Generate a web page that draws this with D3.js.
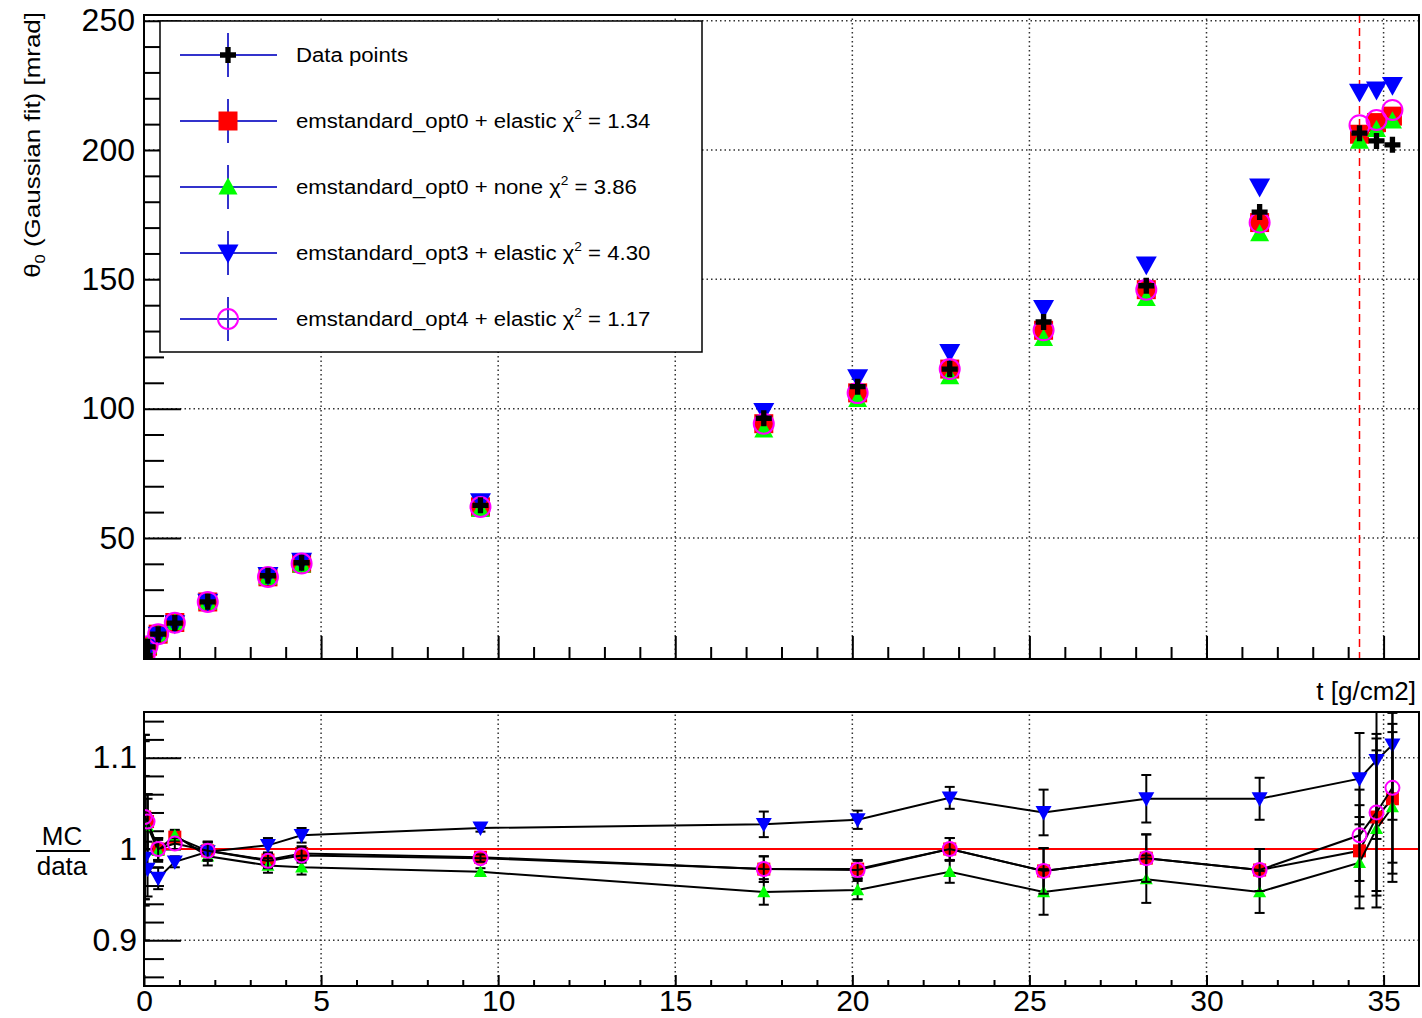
<!DOCTYPE html>
<html><head><meta charset="utf-8">
<script src="https://cdn.jsdelivr.net/npm/d3@7"></script>
<style>
body{margin:0;background:#fff}
svg{display:block}
text{font-family:"Liberation Sans",Arial,Helvetica,sans-serif;fill:#000}
</style>
</head><body>
<script>
// ---------------- data ----------------
const tValues = [0.02, 0.1, 0.4, 0.87, 1.8, 3.5, 4.45, 9.5, 17.5, 20.15, 22.75, 25.4, 28.3, 31.5, 34.32, 34.8, 35.25];
const thetaData        = [4.6, 7.9, 12.8, 17.1, 25.3, 35.4, 40.4, 62.6, 96.3, 108.5, 115.3, 133.5, 147.5, 176.0, 206.5, 203.5, 202.0];
const thetaOpt0Elastic = [4.76, 8.14, 12.8, 17.31, 25.25, 34.98, 40.2, 62.04, 94.18, 106.1, 115.3, 130.3, 146.0, 171.95, 206.1, 210.6, 213.1];
const thetaOpt0None    = [4.73, 8.10, 12.77, 17.36, 25.1, 34.76, 39.6, 61.0, 91.8, 103.6, 112.4, 127.2, 142.6, 167.7, 203.4, 208.0, 211.3];
const thetaOpt3Elastic = [4.55, 7.73, 12.39, 16.86, 25.22, 35.54, 41.0, 64.04, 98.9, 111.97, 121.76, 138.8, 155.6, 185.7, 222.4, 223.2, 225.0];
const thetaOpt4Elastic = [4.76, 8.14, 12.8, 17.2, 25.25, 34.94, 40.12, 61.97, 94.18, 106.0, 115.3, 130.3, 146.0, 171.95, 209.6, 211.6, 215.5];

const ratioOpt0Elastic = [1.035, 1.03, 1.0, 1.013, 0.998, 0.988, 0.995, 0.991, 0.978, 0.978, 1.0, 0.976, 0.99, 0.977, 0.998, 1.035, 1.055];
const ratioOpt0None    = [1.028, 1.025, 0.998, 1.015, 0.992, 0.982, 0.98, 0.975, 0.953, 0.955, 0.975, 0.953, 0.967, 0.953, 0.985, 1.022, 1.046];
const ratioOpt3Elastic = [0.99, 0.978, 0.968, 0.986, 0.997, 1.004, 1.015, 1.023, 1.027, 1.032, 1.056, 1.04, 1.055, 1.055, 1.077, 1.097, 1.114];
const ratioOpt4Elastic = [1.035, 1.03, 1.0, 1.006, 0.998, 0.987, 0.993, 0.99, 0.978, 0.977, 1.0, 0.976, 0.99, 0.977, 1.015, 1.04, 1.067];
const ratioErr         = [0.09, 0.03, 0.012, 0.006, 0.01, 0.008, 0.008, 0.004, 0.014, 0.01, 0.012, 0.025, 0.026, 0.023, 0.05, 0.086, 0.082];

const legendLabels = ["Data points", "emstandard_opt0 + elastic", "emstandard_opt0 + none", "emstandard_opt3 + elastic", "emstandard_opt4 + elastic"];
const chi2Values   = [null, "1.34", "3.86", "4.30", "1.17"];

const xDomain = [0, 36];
const yTopDomain = [3.2, 252.2];
const yBotDomain = [0.85, 1.15];
const xMajorTicks = [0, 5, 10, 15, 20, 25, 30, 35];
const xMinorTicks = d3.range(1, 36).filter(v => v % 5 !== 0);
const yTopMajorTicks = [50, 100, 150, 200, 250];
const yTopMinorTicks = [10, 20, 30, 40, 60, 70, 80, 90, 110, 120, 130, 140, 160, 170, 180, 190, 210, 220, 230, 240];
const yBotMajorTicks = [0.9, 1.0, 1.1];
const yBotMinorTicks = [0.86, 0.88, 0.92, 0.94, 0.96, 0.98, 1.02, 1.04, 1.06, 1.08, 1.12, 1.14];
const dashedLineT = 34.32;

// ---------------- layout ----------------
const W = 1422, H = 1018;
const L = 144, R = 1419;
const topT = 15, topB = 659, botT = 712, botB = 986;

const svg = d3.select("body").append("svg").attr("width", W).attr("height", H);
svg.append("rect").attr("width", W).attr("height", H).attr("fill", "#fff");

const x = d3.scaleLinear().domain(xDomain).range([L, R]);
const yTop = d3.scaleLinear().domain(yTopDomain).range([topB, topT]);
const yBot = d3.scaleLinear().domain(yBotDomain).range([botB, botT]);

const defs = svg.append("defs");
defs.append("clipPath").attr("id", "clipTop").append("rect").attr("x", L).attr("y", topT).attr("width", R - L).attr("height", topB - topT);
defs.append("clipPath").attr("id", "clipBot").append("rect").attr("x", L).attr("y", botT).attr("width", R - L).attr("height", botB - botT);

function markerPath(type, s) {
  const h = s / 2;
  switch (type) {
    case "square": return `M${-h},${-h}H${h}V${h}H${-h}Z`;
    case "up": return `M0,${-h}L${h},${h * 0.8}L${-h},${h * 0.8}Z`;
    case "down": return `M0,${h}L${h},${-h * 0.8}L${-h},${-h * 0.8}Z`;
    case "cross": { const a = s / 6; return `M${-a},${-h}H${a}V${-a}H${h}V${a}H${a}V${h}H${-a}V${a}H${-h}V${-a}H${-a}Z`; }
    case "circle": return `M${h},0A${h},${h} 0 1,1 ${-h},0A${h},${h} 0 1,1 ${h},0Z`;
  }
}
function styleMarker(sel, st) {
  if (st.type === "circle") sel.attr("fill", "none").attr("stroke", st.color).attr("stroke-width", 2);
  else sel.attr("fill", st.color).attr("stroke", "none");
}

const styles = {
  data:  {type: "cross",  color: "#000000", size: 16, sizeR: 12},
  o0el:  {type: "square", color: "#ff0000", size: 19, sizeR: 13},
  o0no:  {type: "up",     color: "#00ff00", size: 19, sizeR: 13},
  o3el:  {type: "down",   color: "#0000ff", size: 21, sizeR: 16},
  o4el:  {type: "circle", color: "#ff00ff", size: 20, sizeR: 14}
};

// ---------------- grid ----------------
function grid(g, yScale, yTicks) {
  const [y0, y1] = yScale.range();
  g.selectAll(".gx").data(xMajorTicks.filter(v => v > 0)).join("line")
    .attr("x1", d => x(d)).attr("x2", d => x(d)).attr("y1", y0).attr("y2", y1);
  g.selectAll(".gy").data(yTicks).join("line").attr("class", "gy")
    .attr("x1", L).attr("x2", R).attr("y1", d => yScale(d)).attr("y2", d => yScale(d));
  g.selectAll("line").attr("stroke", "#333").attr("stroke-width", 1.5).attr("stroke-dasharray", "1.5,3");
}
grid(svg.append("g"), yTop, yTopMajorTicks);
grid(svg.append("g"), yBot, yBotMajorTicks);

// ---------------- axes ----------------
function cleanAxis(g, fontSize) {
  g.select(".domain").remove();
  g.selectAll(".tick line").attr("stroke", "#000").attr("stroke-width", 2);
  g.selectAll(".tick text").attr("font-size", fontSize).attr("font-family", "Liberation Sans, Arial, sans-serif").attr("fill", "#000");
  return g;
}
// top panel
cleanAxis(svg.append("g").attr("transform", `translate(0,${topB})`)
  .call(d3.axisBottom(x).tickValues(xMajorTicks).tickSize(-23).tickFormat("")), 0);
cleanAxis(svg.append("g").attr("transform", `translate(0,${topB})`)
  .call(d3.axisBottom(x).tickValues(xMinorTicks).tickSize(-12).tickFormat("")), 0);
cleanAxis(svg.append("g").attr("transform", `translate(${L},0)`)
  .call(d3.axisLeft(yTop).tickValues(yTopMajorTicks).tickSize(-37).tickPadding(9).tickFormat(d3.format("d"))), 32);
cleanAxis(svg.append("g").attr("transform", `translate(${L},0)`)
  .call(d3.axisLeft(yTop).tickValues(yTopMinorTicks).tickSize(-20).tickFormat("")), 0);
// bottom panel
cleanAxis(svg.append("g").attr("transform", `translate(0,${botB})`)
  .call(d3.axisBottom(x).tickValues(xMajorTicks).tickSize(-11).tickPadding(5).tickFormat(d3.format("d"))), 30)
  .selectAll(".tick text").attr("dy", null).attr("y", 25);
cleanAxis(svg.append("g").attr("transform", `translate(0,${botB})`)
  .call(d3.axisBottom(x).tickValues(xMinorTicks).tickSize(-6).tickFormat("")), 0);
cleanAxis(svg.append("g").attr("transform", `translate(${L},0)`)
  .call(d3.axisLeft(yBot).tickValues(yBotMajorTicks).tickSize(-37).tickPadding(7).tickFormat(d => d === 1 ? "1" : d3.format(".1f")(d))), 32);
cleanAxis(svg.append("g").attr("transform", `translate(${L},0)`)
  .call(d3.axisLeft(yBot).tickValues(yBotMinorTicks).tickSize(-20).tickFormat("")), 0);

// ---------------- top panel data ----------------
const gTop = svg.append("g").attr("clip-path", "url(#clipTop)");
gTop.append("line").attr("x1", x(dashedLineT)).attr("x2", x(dashedLineT)).attr("y1", topT).attr("y2", topB)
  .attr("stroke", "#ff0000").attr("stroke-width", 1.5).attr("stroke-dasharray", "8,5");

const topSeries = [
  [thetaOpt0Elastic, styles.o0el],
  [thetaOpt0None, styles.o0no],
  [thetaOpt3Elastic, styles.o3el],
  [thetaOpt4Elastic, styles.o4el],
  [thetaData, styles.data]
];
topSeries.forEach(([vals, st]) => {
  gTop.append("g").selectAll("path").data(tValues.map((t, i) => [t, vals[i]])).join("path")
    .attr("transform", d => `translate(${x(d[0])},${yTop(d[1])})`)
    .attr("d", markerPath(st.type, st.size))
    .call(s => styleMarker(s, st));
});

// ---------------- bottom panel data ----------------
const gBot = svg.append("g").attr("clip-path", "url(#clipBot)");
gBot.append("line").attr("x1", L).attr("x2", R).attr("y1", yBot(1)).attr("y2", yBot(1))
  .attr("stroke", "#ff0000").attr("stroke-width", 2);

const botSeries = [
  [ratioOpt0Elastic, styles.o0el],
  [ratioOpt0None, styles.o0no],
  [ratioOpt3Elastic, styles.o3el],
  [ratioOpt4Elastic, styles.o4el]
];
const lineGen = d3.line().x(d => x(d[0])).y(d => yBot(d[1]));
botSeries.forEach(([vals, st]) => {
  const pts = tValues.map((t, i) => [t, vals[i], ratioErr[i]]);
  const g = gBot.append("g");
  g.append("path").attr("d", lineGen(pts)).attr("fill", "none").attr("stroke", "#000").attr("stroke-width", 2);
  const eb = g.append("g").attr("stroke", "#000").attr("stroke-width", 2);
  eb.selectAll(".v").data(pts).join("line")
    .attr("x1", d => x(d[0])).attr("x2", d => x(d[0])).attr("y1", d => yBot(d[1] - d[2])).attr("y2", d => yBot(d[1] + d[2]));
  eb.selectAll(".c1").data(pts).join("line").attr("class", "c1")
    .attr("x1", d => x(d[0]) - 5).attr("x2", d => x(d[0]) + 5).attr("y1", d => yBot(d[1] - d[2])).attr("y2", d => yBot(d[1] - d[2]));
  eb.selectAll(".c2").data(pts).join("line").attr("class", "c2")
    .attr("x1", d => x(d[0]) - 5).attr("x2", d => x(d[0]) + 5).attr("y1", d => yBot(d[1] + d[2])).attr("y2", d => yBot(d[1] + d[2]));
  g.append("g").selectAll("path").data(pts).join("path")
    .attr("transform", d => `translate(${x(d[0])},${yBot(d[1])})`)
    .attr("d", markerPath(st.type, st.sizeR))
    .call(s => styleMarker(s, st));
});

// ---------------- frames ----------------
svg.append("rect").attr("x", L).attr("y", topT).attr("width", R - L).attr("height", topB - topT)
  .attr("fill", "none").attr("stroke", "#000").attr("stroke-width", 2);
svg.append("rect").attr("x", L).attr("y", botT).attr("width", R - L).attr("height", botB - botT)
  .attr("fill", "none").attr("stroke", "#000").attr("stroke-width", 2);

// ---------------- legend ----------------
const leg = svg.append("g");
leg.append("rect").attr("x", 160).attr("y", 21).attr("width", 542).attr("height", 331)
  .attr("fill", "#fff").attr("stroke", "#000").attr("stroke-width", 1.5);
const legStyles = [styles.data, styles.o0el, styles.o0no, styles.o3el, styles.o4el];
const legTexts = [];
legendLabels.forEach((lab, i) => {
  const cy = 55 + i * 66;
  leg.append("line").attr("x1", 180).attr("x2", 277).attr("y1", cy).attr("y2", cy).attr("stroke", "#3333cc").attr("stroke-width", 2);
  leg.append("line").attr("x1", 228).attr("x2", 228).attr("y1", cy - 22).attr("y2", cy + 22).attr("stroke", "#3333cc").attr("stroke-width", 2);
  leg.append("path").attr("transform", `translate(228,${cy})`).attr("d", markerPath(legStyles[i].type, legStyles[i].size))
    .call(s => styleMarker(s, legStyles[i]));
  const t = leg.append("text").attr("font-size", 21).attr("fill", "#111");
  if (chi2Values[i] === null) {
    t.text(lab);
  } else {
    t.append("tspan").text(lab + " \u03c7");
    t.append("tspan").attr("font-size", 13).attr("dy", -9).text("2");
    t.append("tspan").attr("dy", 9).text(" = " + chi2Values[i]);
  }
  legTexts.push([t, cy]);
});
const refW = legTexts[1][0].node().getBBox().width;
const kLeg = 355 / refW;
legTexts.forEach(([t, cy]) => t.attr("transform", `translate(296,${cy + 7}) scale(${kLeg},1)`));

// ---------------- axis titles ----------------
const yt = svg.append("text").attr("font-size", 22).attr("text-anchor", "end");
yt.append("tspan").text("\u03b8");
yt.append("tspan").attr("font-size", 14).attr("dy", 5).text("0");
yt.append("tspan").attr("dy", -5).text(" (Gaussian fit) [mrad]");
const ytW = yt.node().getBBox().width;
yt.attr("transform", `translate(40,12) rotate(-90) scale(${266 / ytW},1)`);

svg.append("text").attr("x", 1416).attr("y", 700).attr("text-anchor", "end").attr("font-size", 26).text("t [g/cm2]");

svg.append("text").attr("x", 62).attr("y", 845).attr("text-anchor", "middle").attr("font-size", 26).text("MC");
svg.append("line").attr("x1", 36).attr("x2", 90).attr("y1", 851).attr("y2", 851).attr("stroke", "#000").attr("stroke-width", 2);
svg.append("text").attr("x", 62).attr("y", 875).attr("text-anchor", "middle").attr("font-size", 26).text("data");
</script>
</body></html>
